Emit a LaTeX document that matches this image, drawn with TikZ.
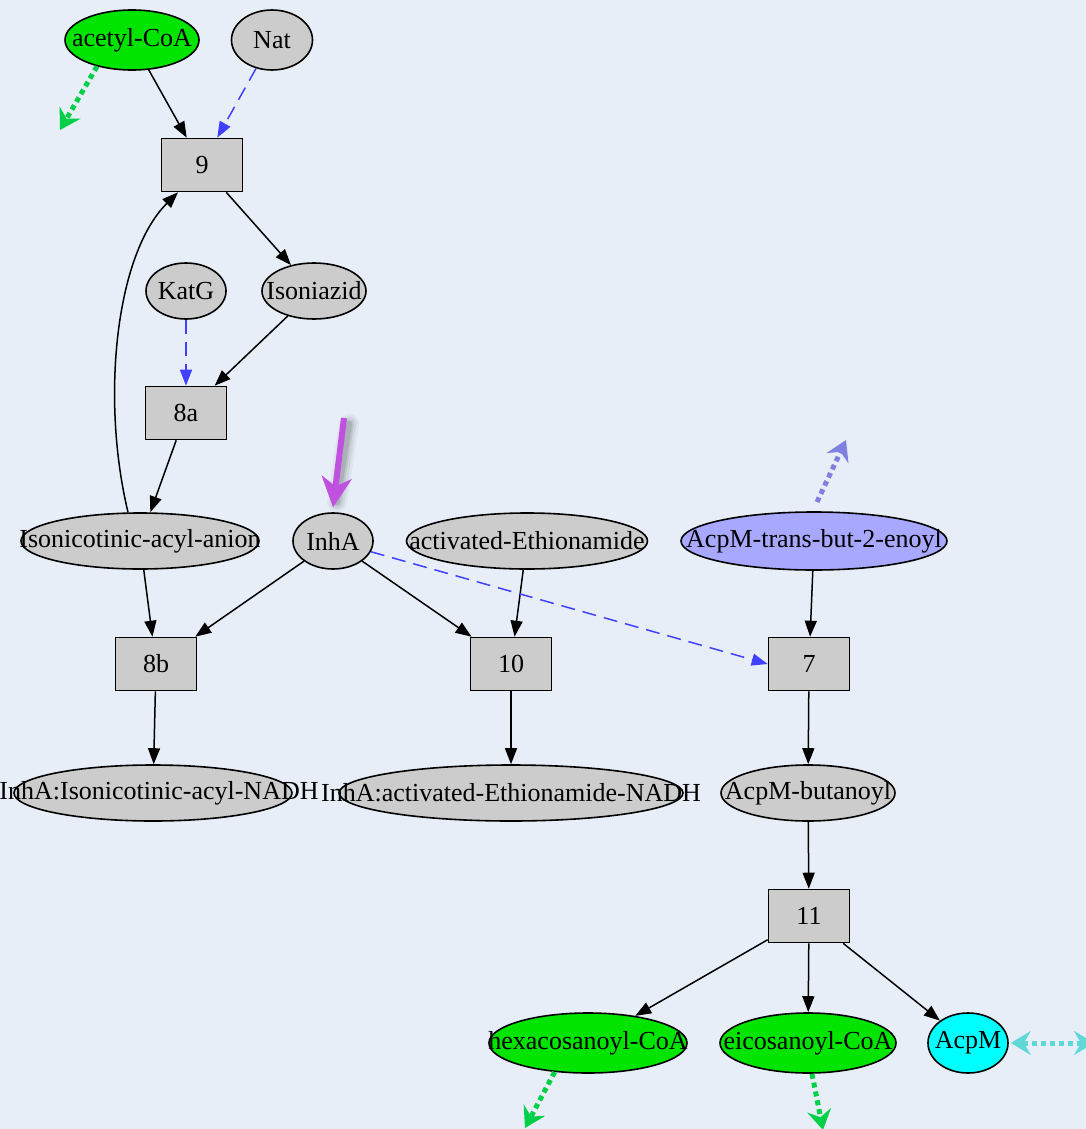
\documentclass[tikz,border=0pt]{standalone}
\usepackage{fontspec}
\setmainfont{Liberation Serif}
\usetikzlibrary{shapes.geometric,arrows.meta,calc}

\definecolor{bg}{HTML}{E8EEF7}
\definecolor{nodegray}{HTML}{CCCCCC}
\definecolor{coafill}{HTML}{00E400}
\definecolor{lavfill}{HTML}{A8A8FF}
\definecolor{cyanfill}{HTML}{00FFFF}
\definecolor{modblue}{HTML}{4040FF}
\definecolor{outgreen}{HTML}{00D048}
\definecolor{outlav}{HTML}{8080E0}
\definecolor{outcyan}{HTML}{60D8D8}
\definecolor{hilite}{HTML}{C050E0}

\tikzset{
  every node/.style={font=\fontsize{26}{31}\selectfont},
  species/.style 2 args={ellipse, draw, line width=1.6pt, fill=nodegray,
    inner sep=0pt, minimum width=#1, minimum height=#2},
  reaction/.style={rectangle, draw, line width=1.6pt, fill=nodegray,
    inner sep=0pt, minimum width=81pt, minimum height=53pt},
  edge/.style={draw, line width=1.5pt, -{Triangle[length=16pt,width=12pt]}},
  modifier/.style={draw=modblue, line width=1.5pt, dash pattern=on 14pt off 8pt,
    -{Triangle[length=16pt,width=12pt,fill=modblue]}},
  outline/.style={draw=#1, line width=5pt, dash pattern=on 5pt off 4pt},
  outflow/.style={outline=#1, -{Stealth[length=20pt,width=24pt,inset=7pt,fill=#1]}},
}

\begin{document}
\begin{tikzpicture}[x=1pt,y=-1pt]
  % canvas
  \fill[bg] (0,0) rectangle (1086,1129);
  \useasboundingbox (0,0) rectangle (1086,1129);

  % species
  \node[species={134}{60}, fill=coafill] (acoa) at (132,40) {\makebox[0pt]{acetyl-CoA}};
  \node[species={81}{60}] (nat) at (272,40) {\makebox[0pt]{Nat}};
  \node[species={104}{56}] (inz) at (314,291) {\makebox[0pt]{Isoniazid}};
  \node[species={80}{56}] (katg) at (186,291) {\makebox[0pt]{KatG}};
  \node[species={238}{56}] (anion) at (140,541) {\makebox[0pt]{Isonicotinic-acyl-anion}};
  \node[species={80}{56}] (inha) at (333,541) {\makebox[0pt]{InhA}};
  \node[species={241}{56}] (aeth) at (527,541) {\makebox[0pt]{activated-Ethionamide}};
  \node[species={266}{58}, fill=lavfill] (trans) at (814,541) {\makebox[0pt]{AcpM-trans-but-2-enoyl}};
  \node[species={278}{56}] (nadh1) at (153,793) {\makebox[0pt]{\kern12pt InhA:Isonicotinic-acyl-NADH}};
  \node[species={344}{56}] (nadh2) at (511,793) {\makebox[0pt]{InhA:activated-Ethionamide-NADH}};
  \node[species={174}{56}] (buta) at (808,793) {\makebox[0pt]{AcpM-butanoyl}};
  \node[species={198}{60}, fill=coafill] (hexa) at (588,1043) {\makebox[0pt]{hexacosanoyl-CoA}};
  \node[species={176}{60}, fill=coafill] (eico) at (808,1043) {\makebox[0pt]{eicosanoyl-CoA}};
  \node[species={80}{60}, fill=cyanfill] (acpm) at (968,1043) {\makebox[0pt]{AcpM}};

  % reactions
  \node[reaction] (r9) at (202,165) {9};
  \node[reaction] (r8a) at (186,413) {8a};
  \node[reaction] (r8b) at (156,664) {8b};
  \node[reaction] (r10) at (511,664) {10};
  \node[reaction] (r7) at (809,664) {7};
  \node[reaction] (r11) at (809,916) {11};

  % free ends of the outflow arrows
  \coordinate (acoaout) at (60,130);
  \coordinate (transin) at (817,502);
  \coordinate (transout) at (846,440);
  \coordinate (hexaout) at (525,1128);
  \coordinate (eicoout) at (823,1130);
  \coordinate (acpmout) at (1094,1043);
  \coordinate (hlstart) at (344,418);

  % mass flow
  \draw[edge] (acoa) -- (r9);
  \draw[edge] (r9) -- (inz);
  \draw[edge] (inz) -- (r8a);
  \draw[edge] (r8a) -- (anion);
  \draw[edge] ([xshift=-12pt]anion.north) .. controls (101,400) and (115,255) .. ([xshift=-24pt]r9.south);
  \draw[edge] (anion) -- (r8b);
  \draw[edge] (inha) -- (r8b);
  \draw[edge] (inha) -- (r10);
  \draw[edge] (aeth) -- (r10);
  \draw[edge] (trans) -- (r7);
  \draw[edge] (r8b) -- (nadh1);
  \draw[edge] (r10) -- (nadh2);
  \draw[edge] (r7) -- (buta);
  \draw[edge] (buta) -- (r11);
  \draw[edge] (r11) -- (hexa);
  \draw[edge] (r11) -- (eico);
  \draw[edge] (r11) -- (acpm);

  % modifiers
  \draw[modifier] (nat) -- (r9);
  \draw[modifier] (katg) -- (r8a);
  \draw[modifier] (inha) -- (r7.west);

  % outflows
  \draw[outflow=outgreen] (acoa.217) -- (acoaout);
  \draw[outflow=outlav] (transin) -- (transout);
  \draw[outflow=outgreen] (hexa.221) -- (hexaout);
  \draw[outflow=outgreen] ([xshift=4pt]eico.south) -- (eicoout);
  \draw[outline=outcyan, {Stealth[length=20pt,width=24pt,inset=7pt,fill=outcyan]}-{Stealth[length=20pt,width=24pt,inset=7pt,fill=outcyan]}]
    ([xshift=2pt]acpm.east) -- (acpmout);

  % highlight arrow with its soft shadow
  \foreach \w/\o in {20/0.04, 15/0.06, 10/0.08, 6/0.10}
    \draw[line width=\w pt, black, opacity=\o, line cap=round] ($(hlstart)+(5,6)$) -- ($(inha.north)+(4,-10)$);
  \draw[hilite, line width=6pt, -{Stealth[length=30pt,width=30pt,inset=9pt]}] (hlstart) -- ([yshift=5pt]inha.north);
\end{tikzpicture}
\end{document}
